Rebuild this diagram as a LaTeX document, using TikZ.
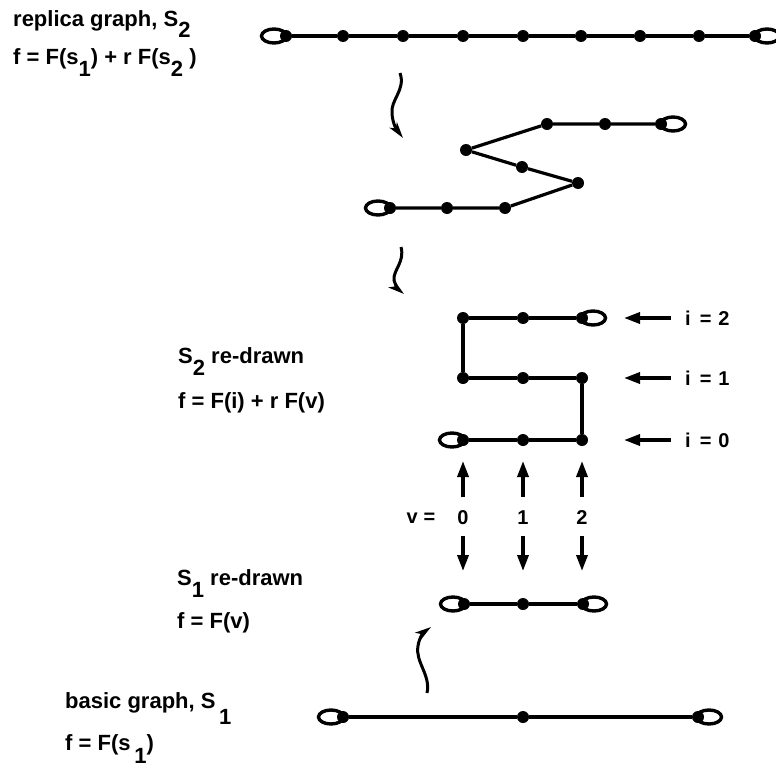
\documentclass[tikz,border=0pt]{standalone}
\usepackage{fontspec}
\setmainfont{Liberation Sans}
\usetikzlibrary{shapes.geometric,arrows.meta}
\newcommand\subdn[2][12pt]{\raisebox{-#1}{#2}}
\begin{document}
\begin{tikzpicture}[x=1pt,y=-1pt,
  dot/.style={circle,fill=black,inner sep=0pt,minimum size=12pt},
  ring/.style={ellipse,draw=black,line width=3.4pt,minimum width=25pt,minimum height=14pt,inner sep=0pt},
  bond/.style={line width=3.2pt},
  lbl/.style={anchor=base west,inner sep=0pt,font=\fontsize{22}{26}\selectfont\bfseries},
  small/.style={inner sep=0pt,font=\fontsize{20}{23}\selectfont\bfseries},
  harrow/.style={line width=3.4pt,-{Triangle[length=16pt,width=11pt]}},
  wavy/.style={line width=3pt,-{Stealth[length=16pt,width=9pt,inset=4pt]}}
]
\useasboundingbox (0,0) rectangle (776,768);

% ---------- labels ----------
\node[lbl] (t1a) at (13,27) {replica graph, S\subdn[11pt]{2}};
\node[lbl] (t1b) at (13,64) {f = F(s\subdn{1}) + r F(s\subdn{2} )};
\node[lbl] (t2a) at (178,363) {S\subdn{2} re-drawn};
\node[lbl] (t2b) at (178,408) {f = F(i) + r F(v)};
\node[lbl] (t3a) at (177,585) {S\subdn{1} re-drawn};
\node[lbl] (t3b) at (177,628) {f = F(v)};
\node[lbl] (t4a) at (65,708) {basic graph, S\,\subdn[16pt]{1}};
\node[lbl] (t4b) at (65,750) {f = F(s\,\subdn[13pt]{1})};

% ---------- top chain (replica graph) ----------
\node[ring] (tL) at (274,36) {};
\node[dot] (tLj) at (286,36) {};
\foreach \i/\x in {1/343,2/403,3/463,4/523,5/581,6/640,7/699}
  \node[dot] (t\i) at (\x,36) {};
\node[ring] (tR) at (767,36) {};
\node[dot] (tRj) at (755,36) {};
\draw[bond] (tLj) -- (t1) -- (t2) -- (t3) -- (t4) -- (t5) -- (t6) -- (t7) -- (tRj);

% ---------- zigzag ----------
\node[ring] (zL) at (378,208) {};
\node[dot] (zLj) at (390,208) {};
\node[dot] (z1) at (447,208) {};
\node[dot] (z2) at (505,208) {};
\node[dot] (z3) at (578,183) {};
\node[dot] (z4) at (522,167) {};
\node[dot] (z5) at (466,150) {};
\node[dot] (z6) at (547,124) {};
\node[dot] (z7) at (605,124) {};
\node[ring] (zR) at (673,124) {};
\node[dot] (zRj) at (661,124) {};
\draw[bond] (zLj) -- (z1) -- (z2) -- (z3) -- (z4) -- (z5) -- (z6) -- (z7) -- (zRj);

% ---------- S2 re-drawn ----------
\node[ring] (sL) at (452,440) {};
\node[dot] (s0) at (463,440) {};
\node[dot] (s1) at (523,440) {};
\node[dot] (s2) at (582,440) {};
\node[dot] (s3) at (582,378) {};
\node[dot] (s4) at (523,378) {};
\node[dot] (s5) at (463,378) {};
\node[dot] (s6) at (463,318) {};
\node[dot] (s7) at (523,318) {};
\node[dot] (s8) at (582,318) {};
\node[ring] (sR) at (593,318) {};
\draw[bond] (s0) -- (s1) -- (s2) -- (s3) -- (s4) -- (s5) -- (s6) -- (s7) -- (s8);

% i labels and arrows
\foreach \k/\y in {2/318,1/378,0/440}{
  \node[small,anchor=west] (i\k) at (685,\y) {i\hspace{9pt}=\hspace{7pt}\k};
  \coordinate (ia\k) at (671,\y);
  \coordinate (ib\k) at (624,\y);
  \draw[harrow] (ia\k) -- (ib\k);
}

% v labels and arrows
\node[small] (vlab) at (421,518) {v\hspace{6pt}=};
\foreach \k/\x in {0/463,1/523,2/582}{
  \node[small] (v\k) at (\x,518) {\k};
  \coordinate (vu\k s) at (\x,497);
  \coordinate (vu\k e) at (\x,461);
  \coordinate (vd\k s) at (\x,536);
  \coordinate (vd\k e) at (\x,571);
  \draw[harrow] (vu\k s) -- (vu\k e);
  \draw[harrow] (vd\k s) -- (vd\k e);
}

% ---------- S1 re-drawn ----------
\node[ring] (cL) at (453,604) {};
\node[dot] (cLj) at (464,604) {};
\node[dot] (c1) at (523,604) {};
\node[ring] (cR) at (594,604) {};
\node[dot] (cRj) at (583,604) {};
\draw[bond] (cLj) -- (c1) -- (cRj);

% ---------- basic graph ----------
\node[ring] (bL) at (331,717) {};
\node[dot] (bLj) at (343,717) {};
\node[dot] (b1) at (523,717) {};
\node[ring] (bR) at (709,717) {};
\node[dot] (bRj) at (698,717) {};
\draw[bond] (bLj) -- (b1) -- (bRj);

% ---------- wavy arrows ----------
\coordinate (w1s) at (400,73);
\coordinate (w1e) at (403,138);
\draw[wavy] (w1s) .. controls (406,90) and (390,100) .. (392,114) .. controls (393,125) and (397,130) .. (w1e);
\coordinate (w2s) at (401,247);
\coordinate (w2e) at (404,294);
\draw[wavy] (w2s) .. controls (405,262) and (393,270) .. (394,280) .. controls (395,285) and (399,290) .. (w2e);
\coordinate (w3s) at (427,693);
\coordinate (w3e) at (431,627);
\draw[wavy] (w3s) .. controls (431,675) and (415,662) .. (418,646) .. controls (419,638) and (424,632) .. (w3e);
\end{tikzpicture}
\end{document}
